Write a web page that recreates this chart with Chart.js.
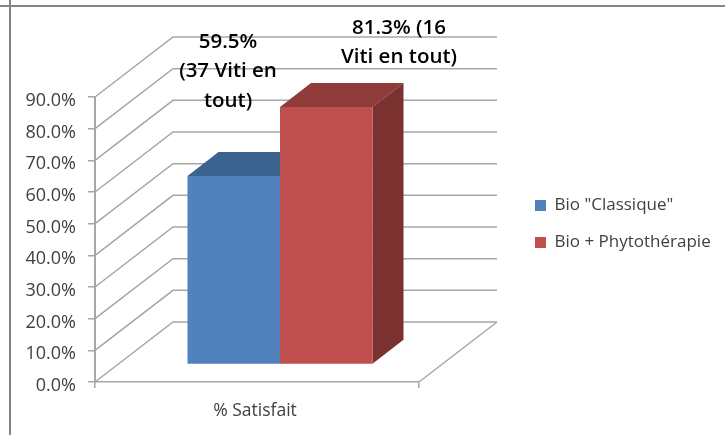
<!DOCTYPE html>
<html>
<head>
<meta charset="utf-8">
<title>% Satisfait</title>
<script src="https://cdn.jsdelivr.net/npm/chart.js@4/dist/chart.umd.min.js"></script>
<style>
  html, body { margin: 0; padding: 0; background: #fff; }
  canvas { display: block; }
</style>
</head>
<body>
<canvas id="myChart" width="725" height="435"></canvas>
<script>
// data
const categories = ['% Satisfait'];
const seriesNames = ['Bio "Classique"', 'Bio + Phytothérapie'];
const classique = [59.5];
const phyto = [81.3];
const labelClassique = ['59.5%', '(37 Viti en', 'tout)'];
const labelPhyto = ['81.3% (16', 'Viti en tout)'];

const gridColor = '#a6a6a6';
const textColor = '#404040';
const frontColors = ['#4f81bd', '#c0504d'];
const topColors = ['#3c6390', '#8e3b39'];
const sideColors = ['#2f4f75', '#7b312f'];

// 3D look: back wall offset, and how far the bars sit in from the front plane
const wall = { dx: 78, dy: -60 };
const barShift = { dx: 23, dy: -17.5 };
const barDepth = { dx: 31, dy: -24 };

function poly(ctx, pts, color) {
    ctx.fillStyle = color;
    ctx.beginPath();
    pts.forEach(function (p, i) {
        if (i === 0) ctx.moveTo(p[0], p[1]);
        else ctx.lineTo(p[0], p[1]);
    });
    ctx.closePath();
    ctx.fill();
}

const frame3d = {
    id: 'frame3d',
    afterLayout(chart) {
        // park the legend right of the plot
        const l = chart.legend;
        l.left = 515;
        l.right = l.left + l.width;
        l.top = 177;
        l.bottom = l.top + l.height;
        l.adjustHitBoxes();
    },
    beforeDraw(chart) {
        const ctx = chart.ctx;
        ctx.save();
        ctx.fillStyle = '#858585';
        ctx.fillRect(9, 0, 2, 435);
        ctx.fillRect(0, 5, 725, 2);
        ctx.restore();
    },
    beforeDatasetsDraw(chart) {
        const ctx = chart.ctx;
        const yScale = chart.scales.y;
        const { left, right, bottom } = chart.chartArea;
        ctx.save();
        ctx.strokeStyle = gridColor;
        ctx.lineWidth = 1.5;
        yScale.ticks.forEach(function (t) {
            const y = yScale.getPixelForValue(t.value);
            ctx.beginPath();
            ctx.moveTo(left, y);
            ctx.lineTo(left + wall.dx, y + wall.dy);
            ctx.lineTo(right + wall.dx, y + wall.dy);
            ctx.stroke();
        });
        // floor, right edge
        ctx.beginPath();
        ctx.moveTo(right, bottom);
        ctx.lineTo(right + wall.dx, bottom + wall.dy);
        ctx.stroke();

        // top and side faces go under all the fronts
        chart.data.datasets.forEach(function (ds, i) {
            const bar = chart.getDatasetMeta(i).data[0];
            const x0 = bar.x - bar.width / 2 + barShift.dx;
            const x1 = bar.x + bar.width / 2 + barShift.dx;
            const yT = bar.y + barShift.dy;
            const yB = bar.base + barShift.dy;
            poly(ctx, [[x0, yT], [x1, yT], [x1 + barDepth.dx, yT + barDepth.dy], [x0 + barDepth.dx, yT + barDepth.dy]], topColors[i]);
            poly(ctx, [[x1, yT], [x1 + barDepth.dx, yT + barDepth.dy], [x1 + barDepth.dx, yB + barDepth.dy], [x1, yB]], sideColors[i]);
        });
        ctx.restore();
    },
    beforeDatasetDraw(chart) {
        chart.ctx.save();
        chart.ctx.translate(barShift.dx, barShift.dy);
    },
    afterDatasetDraw(chart) {
        chart.ctx.restore();
    },
    afterDatasetsDraw(chart) {
        const ctx = chart.ctx;
        const blocks = [
            { lines: labelClassique, x: 228, y: 42 },
            { lines: labelPhyto, x: 399, y: 28 }
        ];
        ctx.save();
        ctx.fillStyle = '#000';
        ctx.font = '600 20.5px "Open Sans"';
        ctx.textAlign = 'center';
        ctx.textBaseline = 'middle';
        blocks.forEach(function (b) {
            b.lines.forEach(function (line, i) {
                ctx.fillText(line, b.x, b.y + i * 29.5);
            });
        });
        ctx.restore();
    }
};

const myChart = new Chart(document.getElementById('myChart').getContext('2d'), {
    type: 'bar',
    data: {
        labels: categories,
        datasets: [
            { label: seriesNames[0], data: classique, backgroundColor: frontColors[0], borderWidth: 0, clip: false },
            { label: seriesNames[1], data: phyto, backgroundColor: frontColors[1], borderWidth: 0, clip: false }
        ]
    },
    options: {
        responsive: false,
        animation: false,
        events: [],
        layout: { padding: { left: 0, top: 97, right: 306, bottom: 0 } },
        datasets: { bar: { categoryPercentage: 0.571, barPercentage: 1 } },
        scales: {
            x: {
                afterFit(scale) { scale.height = 53; },
                grid: { drawOnChartArea: false, tickLength: 6, color: gridColor, lineWidth: 1.5 },
                border: { color: gridColor, width: 1.5 },
                ticks: { color: textColor, font: { family: 'Open Sans', size: 17.5 }, padding: 13, labelOffset: -2 }
            },
            y: {
                min: 0,
                max: 90,
                afterFit(scale) { scale.width = 95; },
                grid: { drawOnChartArea: false, tickLength: 7, color: gridColor, lineWidth: 1.5 },
                border: { color: gridColor, width: 2 },
                ticks: {
                    stepSize: 10,
                    color: textColor,
                    font: { family: 'Open Sans', size: 18 },
                    padding: 12,
                    labelOffset: 4,
                    callback: function (v) { return v.toFixed(1) + '%'; }
                }
            }
        },
        plugins: {
            tooltip: { enabled: false },
            legend: {
                position: 'chartArea',
                align: 'start',
                labels: {
                    boxWidth: 11,
                    boxHeight: 11,
                    padding: 20,
                    color: textColor,
                    font: { family: 'Open Sans', size: 17 }
                }
            }
        }
    },
    plugins: [frame3d]
});
</script>
</body>
</html>
